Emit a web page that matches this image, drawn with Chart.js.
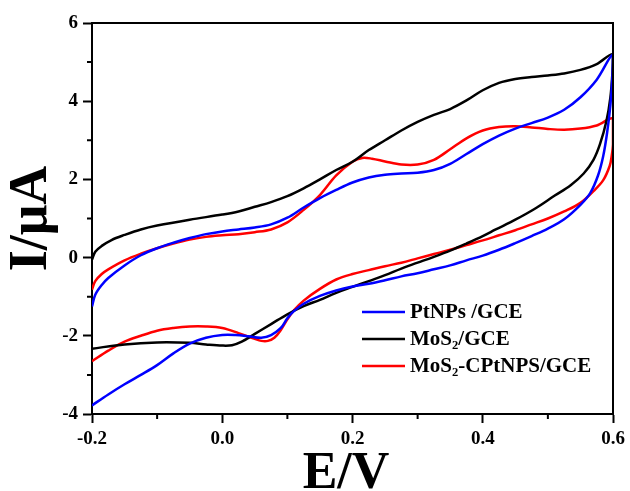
<!DOCTYPE html>
<html>
<head>
<meta charset="utf-8">
<script src="https://cdn.jsdelivr.net/npm/chart.js@4/dist/chart.umd.min.js"></script>
<style>
    body { margin: 0; background: #fff; }
    #wrap { width: 630px; height: 491px; }
</style>
</head>
<body>
<div id="wrap"><canvas id="cvChart" width="630" height="491"></canvas></div>
<script>
// potential (V) and current (uA), forward sweep then reverse sweep
const ptE = [-0.2, -0.195, -0.185, -0.175, -0.15, -0.125, -0.1, -0.075, -0.05, -0.025, 0.0, 0.025, 0.05, 0.075, 0.1, 0.125, 0.15, 0.175, 0.2, 0.225, 0.25, 0.275, 0.3, 0.325, 0.35, 0.375, 0.4, 0.425, 0.45, 0.475, 0.5, 0.525, 0.55, 0.575, 0.6,
    0.599, 0.596, 0.591, 0.585, 0.577, 0.565, 0.55, 0.525, 0.5, 0.475, 0.45, 0.425, 0.4, 0.375, 0.35, 0.325, 0.3, 0.275, 0.25, 0.225, 0.2, 0.175, 0.15, 0.125, 0.11, 0.1, 0.09, 0.075, 0.06, 0.04, 0.02, 0.0, -0.025, -0.05, -0.075, -0.1, -0.125, -0.15, -0.175, -0.2];
const ptI = [-1.25, -0.95, -0.7, -0.52, -0.2, 0.06, 0.24, 0.38, 0.5, 0.6, 0.67, 0.72, 0.77, 0.85, 1.02, 1.28, 1.52, 1.73, 1.92, 2.05, 2.12, 2.15, 2.17, 2.24, 2.4, 2.65, 2.9, 3.12, 3.3, 3.44, 3.58, 3.78, 4.1, 4.55, 5.2,
    4.6, 3.9, 3.2, 2.6, 2.1, 1.65, 1.35, 0.98, 0.74, 0.55, 0.37, 0.2, 0.05, -0.07, -0.2, -0.3, -0.4, -0.48, -0.58, -0.67, -0.74, -0.84, -0.98, -1.18, -1.37, -1.55, -1.8, -1.98, -2.05, -2.01, -1.98, -1.98, -2.05, -2.2, -2.45, -2.75, -3.0, -3.24, -3.5, -3.78];

const mosE = [-0.2, -0.195, -0.185, -0.17, -0.15, -0.125, -0.1, -0.05, 0.0, 0.025, 0.05, 0.075, 0.1, 0.125, 0.15, 0.175, 0.2, 0.225, 0.25, 0.275, 0.3, 0.325, 0.35, 0.375, 0.4, 0.425, 0.45, 0.475, 0.5, 0.525, 0.55, 0.575, 0.6,
    0.599, 0.596, 0.59, 0.58, 0.57, 0.555, 0.535, 0.51, 0.48, 0.45, 0.42, 0.4, 0.375, 0.35, 0.325, 0.3, 0.275, 0.25, 0.225, 0.2, 0.175, 0.15, 0.125, 0.1, 0.075, 0.05, 0.03, 0.015, 0.0, -0.025, -0.05, -0.1, -0.15, -0.2];
const mosI = [-0.05, 0.15, 0.3, 0.45, 0.58, 0.72, 0.82, 0.97, 1.1, 1.18, 1.3, 1.42, 1.57, 1.77, 2.0, 2.24, 2.45, 2.75, 3.0, 3.25, 3.47, 3.65, 3.8, 4.02, 4.28, 4.47, 4.57, 4.62, 4.66, 4.71, 4.8, 4.95, 5.2,
    4.7, 4.1, 3.5, 2.9, 2.5, 2.15, 1.85, 1.58, 1.25, 0.97, 0.72, 0.55, 0.36, 0.18, 0.02, -0.13, -0.28, -0.45, -0.6, -0.75, -0.9, -1.08, -1.24, -1.45, -1.7, -1.95, -2.15, -2.24, -2.25, -2.22, -2.18, -2.17, -2.22, -2.33];

const mixE = [-0.2, -0.195, -0.185, -0.175, -0.15, -0.125, -0.1, -0.075, -0.05, -0.025, 0.0, 0.025, 0.05, 0.075, 0.1, 0.125, 0.15, 0.175, 0.2, 0.215, 0.23, 0.25, 0.275, 0.3, 0.325, 0.35, 0.375, 0.4, 0.425, 0.45, 0.475, 0.5, 0.525, 0.55, 0.575, 0.6,
    0.6, 0.598, 0.595, 0.585, 0.57, 0.55, 0.525, 0.5, 0.475, 0.45, 0.425, 0.4, 0.375, 0.35, 0.325, 0.3, 0.275, 0.25, 0.225, 0.2, 0.175, 0.15, 0.125, 0.11, 0.1, 0.09, 0.08, 0.07, 0.06, 0.05, 0.025, 0.0, -0.025, -0.05, -0.075, -0.1, -0.125, -0.15, -0.175, -0.2];
const mixI = [-0.82, -0.6, -0.42, -0.3, -0.07, 0.1, 0.24, 0.36, 0.46, 0.53, 0.57, 0.6, 0.65, 0.72, 0.9, 1.22, 1.6, 2.1, 2.45, 2.55, 2.53, 2.46, 2.38, 2.38, 2.5, 2.77, 3.05, 3.25, 3.34, 3.36, 3.33, 3.29, 3.27, 3.3, 3.38, 3.55,
    2.9, 2.6, 2.35, 1.98, 1.7, 1.4, 1.18, 1.0, 0.85, 0.7, 0.57, 0.44, 0.32, 0.2, 0.09, -0.02, -0.13, -0.22, -0.32, -0.42, -0.56, -0.8, -1.1, -1.35, -1.58, -1.85, -2.05, -2.13, -2.13, -2.08, -1.93, -1.8, -1.76, -1.76, -1.8, -1.87, -2.0, -2.15, -2.38, -2.65];

const seriesNames = ['PtNPs /GCE', 'MoS\u2082/GCE', 'MoS\u2082-CPtNPS/GCE'];
const seriesColors = ['#0000ff', '#000000', '#ff0000'];

const xTicks = { min: -0.2, max: 0.6, step: 0.1 };
const yTicks = { min: -4, max: 6, step: 1 };

const toPoints = function (xs, ys) {
    const out = [];
    for (let i = 0; i < xs.length; i++) {
        out.push({x: xs[i], y: ys[i]});
    }
    return out;
}

const serif = "'Liberation Serif', 'Times New Roman', serif";

// frame on top/right, short minor ticks, legend inside the plot
const framePlugin = {
    id: 'frame',
    afterDraw: function (chart) {
        const ctx = chart.ctx;
        const area = chart.chartArea;
        ctx.save();
        ctx.strokeStyle = '#000';
        ctx.lineWidth = 2;
        ctx.beginPath();
        ctx.moveTo(area.left, area.top);
        ctx.lineTo(area.right, area.top);
        ctx.lineTo(area.right, area.bottom);
        ctx.stroke();

        // minor ticks
        const xs = chart.scales.x, ys = chart.scales.y;
        ctx.beginPath();
        for (let v = yTicks.min + 1; v < yTicks.max; v += 2) {
            const py = ys.getPixelForValue(v);
            ctx.moveTo(area.left, py);
            ctx.lineTo(area.left - 5, py);
        }
        for (let k = -1; k <= 5; k += 2) {
            const px = xs.getPixelForValue(k / 10);
            ctx.moveTo(px, area.bottom);
            ctx.lineTo(px, area.bottom + 5);
        }
        ctx.stroke();

        // legend
        const lx = 362, rowY = [312, 339, 366];
        ctx.font = 'bold 21px ' + serif;
        ctx.textBaseline = 'middle';
        ctx.fillStyle = '#000';
        chart.data.datasets.forEach(function (ds, i) {
            ctx.strokeStyle = ds.borderColor;
            ctx.lineWidth = 2.5;
            ctx.beginPath();
            ctx.moveTo(lx, rowY[i]);
            ctx.lineTo(lx + 43, rowY[i]);
            ctx.stroke();
            ctx.fillText(ds.label, lx + 48, rowY[i] + 1);
        });
        ctx.restore();
    }
};

const datasets = [
    {label: seriesNames[0], data: toPoints(ptE, ptI), borderColor: seriesColors[0]},
    {label: seriesNames[1], data: toPoints(mosE, mosI), borderColor: seriesColors[1]},
    {label: seriesNames[2], data: toPoints(mixE, mixI), borderColor: seriesColors[2]},
];
datasets.forEach(function (ds) {
    ds.showLine = true;
    ds.pointRadius = 0;
    ds.borderWidth = 2.5;
    ds.tension = 0.35;
    ds.fill = false;
});

const ctx = document.getElementById('cvChart').getContext('2d');
const myChart = new Chart(ctx, {
    type: 'scatter',
    data: {datasets: datasets},
    options: {
        responsive: false,
        animation: false,
        layout: {padding: {top: 23, right: 17, left: 0, bottom: 0}},
        plugins: {
            legend: {display: false},
            tooltip: {enabled: false},
        },
        scales: {
            x: {
                type: 'linear',
                min: xTicks.min,
                max: xTicks.max,
                afterFit: function (scale) { scale.height = 77; },
                border: {color: '#000', width: 2},
                grid: {
                    drawOnChartArea: false,
                    tickLength: 9,
                    tickWidth: 2,
                    tickColor: function (c) {
                        return Math.round(c.tick.value * 10) % 2 === 0 ? '#000' : 'rgba(0,0,0,0)';
                    },
                },
                ticks: {
                    stepSize: xTicks.step,
                    padding: 5,
                    maxRotation: 0,
                    autoSkip: false,
                    color: '#000',
                    font: {family: serif, size: 19, weight: 'bold'},
                    callback: function (v) {
                        const k = Math.round(v * 10);
                        return k % 2 === 0 ? (k / 10).toFixed(1) : '';
                    }
                },
                title: {
                    display: true,
                    text: 'E/V ',
                    color: '#000',
                    padding: 0,
                    font: {family: serif, size: 52, weight: 'bold', lineHeight: 0.65},
                }
            },
            y: {
                min: yTicks.min,
                max: yTicks.max,
                afterFit: function (scale) { scale.width = 92; },
                border: {color: '#000', width: 2},
                grid: {
                    drawOnChartArea: false,
                    tickLength: 9,
                    tickWidth: 2,
                    tickColor: function (c) {
                        return c.tick.value % 2 === 0 ? '#000' : 'rgba(0,0,0,0)';
                    },
                },
                ticks: {
                    stepSize: yTicks.step,
                    padding: 5,
                    autoSkip: false,
                    color: '#000',
                    font: {family: serif, size: 19, weight: 'bold'},
                    callback: function (v) {
                        return v % 2 === 0 ? String(v) : '';
                    }
                },
                title: {
                    display: true,
                    text: 'I/\u03bcA',
                    color: '#000',
                    padding: 0,
                    font: {family: serif, size: 54, weight: 'bold', lineHeight: 1.2},
                }
            }
        }
    },
    plugins: [framePlugin]
});
</script>
</body>
</html>
